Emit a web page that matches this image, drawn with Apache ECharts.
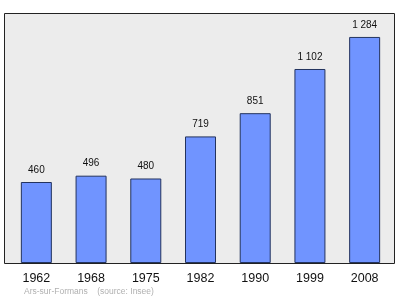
<!DOCTYPE html>
<html><head><meta charset="utf-8">
<script src="https://cdn.jsdelivr.net/npm/echarts@6/dist/echarts.min.js"></script>
<style>html,body{margin:0;padding:0;background:#fff}#c{width:400px;height:299px}</style>
</head><body><div id="c"></div>
<script>
var years = ['1962','1968','1975','1982','1990','1999','2008'];
var population = [460,496,480,719,851,1102,1284];
var footer = 'Ars-sur-Formans    (source: Insee)';

var chart = echarts.init(document.getElementById('c'), null, {renderer:'canvas'});
function fmt(v){ return String(v).replace(/\B(?=(\d{3})+(?!\d))/g,' '); }
var FF = '"Liberation Sans", Arial, sans-serif';
chart.setOption({
  animation:false,
  graphic:[
    {type:'rect', shape:{x:4.5,y:13.5,width:390,height:250}, style:{fill:'#ececec',stroke:'#222',lineWidth:1}, z:-10},
    {type:'text', left:24, top:287, style:{text:footer, fill:'#b0b0b0', font:'8.5px ' + FF}}
  ],
  grid:{left:9, right:8, top:13, bottom:36},
  xAxis:{type:'category', data:years, boundaryGap:true,
    axisLine:{show:false}, axisTick:{show:false},
    axisLabel:{color:'#111', fontSize:12.5, fontFamily:FF, margin:9}},
  yAxis:{type:'value', min:0, max:1420, show:false, splitLine:{show:false}},
  series:[{type:'bar', data:population, barWidth:31,
    itemStyle:{color:'#7094ff', borderColor:'#23335e', borderWidth:1},
    label:{show:true, position:'top', distance:7, color:'#111', fontSize:10, fontFamily:FF,
      formatter:function(p){return fmt(p.value);}}
  }]
});
</script></body></html>
